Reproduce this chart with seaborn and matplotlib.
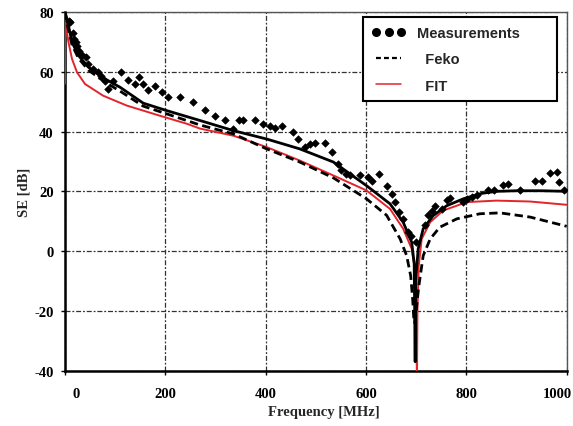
import matplotlib
matplotlib.use("Agg")
import matplotlib.pyplot as plt
import matplotlib.transforms as mtransforms
from matplotlib.lines import Line2D
from matplotlib.font_manager import FontProperties
import seaborn as sns
import pandas as pd

# ---------------- data ----------------
meas_x = [8, 11, 15, 17, 21, 24, 27, 33, 42, 46, 55, 66, 72, 80, 86, 96, 111, 126, 140, 148,
          156, 166, 179, 193, 206, 229, 256, 279, 299, 319, 335, 347, 355, 379, 394, 409, 419,
          432, 455, 465, 478, 488, 498, 518, 532, 545, 551, 561, 568, 588, 604, 611, 625, 641,
          651, 658, 666, 674, 684, 690, 700, 718, 724, 731, 738, 751, 761, 767, 794, 801, 811,
          821, 844, 855, 873, 883, 906, 936, 950, 966, 981, 985, 995]
meas_y = [77, 76.6, 73, 71, 69.9, 68.5, 67, 65.5, 65, 62.5, 61, 59.8, 58.5, 57, 54.3, 57, 59.8,
          57.4, 56, 58.4, 55.9, 53.9, 55.4, 53.2, 51.5, 51.5, 50, 47.3, 45.3, 43.7, 40.9, 43.7,
          43.9, 43.9, 42.6, 42, 41.1, 42, 40, 37.5, 35, 35.9, 36.2, 36.2, 33.1, 29.2, 27, 25.8,
          25.3, 25.3, 24.7, 23.6, 25.8, 21.9, 19.2, 16.4, 13, 10.8, 6.4, 5, 3, 8.6, 12, 13.5,
          15.2, 14.1, 17.2, 17.9, 16.6, 17.5, 18.1, 18.8, 20.3, 20.5, 22, 22.3, 20.3, 23.6,
          23.6, 26, 26.6, 23.1, 20.3]

solid_x = [0, 4, 14, 27, 47, 80, 110, 156, 203, 269, 336, 402, 468, 535, 601, 648, 674, 691,
           696, 697, 698, 699, 704, 714, 734, 761, 794, 830, 860, 900, 950, 1000]
solid_y = [80, 77.7, 69.9, 65.4, 61.5, 57.6, 54.8, 49.5, 47, 43.7, 40.3, 37.5, 34.2, 29.8, 21.9,
           15.8, 9.7, 3, -4, -20, -37, -10, 0.8, 7.5, 11.9, 15.2, 17.5, 19.3, 20, 20.2, 20.2, 20]

feko_x = [0, 4, 14, 27, 47, 80, 110, 156, 203, 269, 336, 402, 468, 535, 601, 641, 668, 681,
          689, 693, 695, 697, 700, 705, 714, 728, 747, 781, 827, 867, 927, 1000]
feko_y = [80, 76, 69, 64.5, 60.5, 56.5, 53.5, 48.5, 45.9, 42.2, 39.2, 34.2, 29.8, 24.5, 17.5,
          12, 4.1, -1.5, -8.2, -16, -22, -24, -20, -12, -1.5, 4.1, 8, 10.8, 12.5, 12.8, 11.4, 8.3]

fit_x = [0, 0.5, 3, 7, 14, 24, 40, 76, 123, 189, 243, 269, 336, 402, 468, 535, 601, 648, 674,
         691, 698, 700, 701, 701.5, 702.5, 705, 711, 728, 754, 801, 860, 927, 1000]
fit_y = [56, 80, 74, 69.9, 64.3, 59.8, 55.9, 52, 48.7, 45.3, 42.6, 41, 38.6, 34.8, 30.3, 25.3,
         20.3, 14.1, 7.5, 0.8, -7, -20, -35, -45, -20, -5, 4.1, 9.7, 13.6, 16.4, 16.9, 16.6, 15.5]

x_ticks = [0, 200, 400, 600, 800, 1000]
y_ticks = [-40, -20, 0, 20, 40, 60, 80]
legend_labels = ["Measurements", "  Feko", "  FIT"]

RED = "#e3242b"

# ---------------- figure ----------------
sns.set_theme(style="white")
plt.rcParams["font.family"] = ["Liberation Serif", "DejaVu Serif"]

fig = plt.figure(figsize=(5.73, 4.27), dpi=100)
ax = fig.add_axes([0.1134, 0.1295, 0.8756, 0.8401])
ax.set_facecolor("white")

sns.lineplot(x=fit_x, y=fit_y, ax=ax, color=RED, lw=1.4, sort=False, estimator=None, zorder=3)
sns.lineplot(x=feko_x, y=feko_y, ax=ax, color="black", lw=2.0, sort=False, estimator=None,
             linestyle=(0, (3, 1.6)), zorder=3)
sns.lineplot(x=solid_x, y=solid_y, ax=ax, color="black", lw=2.0, sort=False, estimator=None,
             zorder=4)
sns.scatterplot(x=meas_x, y=meas_y, ax=ax, marker="D", s=15, color="black",
                edgecolor="black", linewidth=0.4, zorder=5)

ax.set_xlim(0, 1000)
ax.set_ylim(-40, 80)
ax.set_xticks(x_ticks)
ax.set_yticks(y_ticks)
ax.set_xticklabels([str(v) for v in x_ticks])
ax.set_yticklabels([str(v) for v in y_ticks])

ax.grid(True, color="#333333", lw=0.9, ls=(0, (4, 1.5, 1.5, 1.5)))
ax.set_axisbelow(True)

for side in ["left", "bottom"]:
    ax.spines[side].set_color("black")
    ax.spines[side].set_linewidth(1.8)
for side in ["top", "right"]:
    ax.spines[side].set_color("#555555")
    ax.spines[side].set_linewidth(1.0)

ax.tick_params(axis="both", which="both", direction="out", length=3, width=1,
               colors="black", bottom=True, left=True, labelsize=10.5)
ax.tick_params(axis="x", pad=9)
ax.tick_params(axis="y", pad=5)
for lbl in ax.get_xticklabels() + ax.get_yticklabels():
    lbl.set_fontweight("bold")

# edge labels nudged inward like the reference
xl = ax.get_xticklabels()
xl[0].set_transform(xl[0].get_transform() + mtransforms.ScaledTranslation(11 / 100, 0, fig.dpi_scale_trans))
xl[-1].set_transform(xl[-1].get_transform() + mtransforms.ScaledTranslation(-9 / 100, 0, fig.dpi_scale_trans))

ax.set_xlabel("Frequency [MHz]", fontsize=10.5, fontweight="bold")
ax.set_ylabel("SE [dB]", fontsize=10.5, fontweight="bold")
ax.xaxis.set_label_coords(0.516, -0.097)
ax.yaxis.set_label_coords(-0.068, 0.5)

# ---------------- legend ----------------
h1 = Line2D([], [], marker="o", ls="none", color="black", markersize=5.5)
h2 = Line2D([], [], color="black", ls=(0, (2.2, 1.4)), lw=1.6)
h3 = Line2D([], [], color=RED, lw=1.1)
leg = ax.legend([h1, h2, h3], legend_labels, loc="upper left",
                bbox_to_anchor=(0.594, 0.752, 0.387, 0.234), mode="expand",
                numpoints=3, prop=FontProperties(family="Liberation Sans", weight="bold", size=10.5),
                frameon=True, fancybox=False, edgecolor="black", framealpha=1,
                borderpad=0.6, labelspacing=0.85, handlelength=2.3, handletextpad=0.8,
                borderaxespad=0)
leg.get_frame().set_linewidth(1.5)
leg.set_zorder(10)

fig.savefig("out.png", dpi=100, facecolor="white")
